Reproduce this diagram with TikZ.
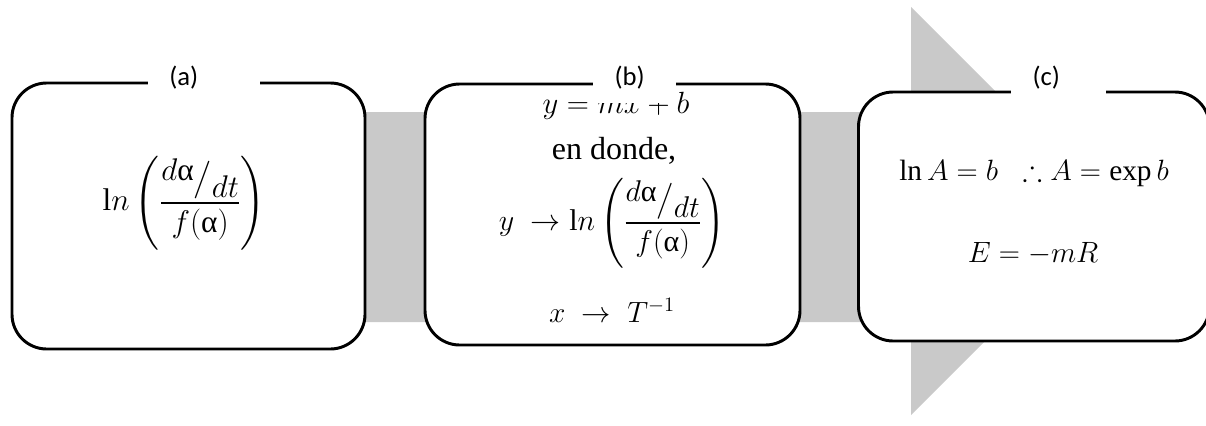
\RequirePackage{fix-cm}
\documentclass[tikz,border=0pt]{standalone}
\usepackage{amsmath,amssymb}
\usepackage{fontspec}
\setmainfont{Liberation Serif}
\newfontfamily\tagfont{Carlito}
\usetikzlibrary{positioning}
\definecolor{band}{HTML}{C9C9C9}
\newcommand{\rate}{\mathrm{l}n\left(\dfrac{\raisebox{.5ex}{$d\text{α}$}\big/\raisebox{-.7ex}{$dt$}}{f(\text{α})}\right)}

\begin{document}
\begin{tikzpicture}[x=0.75pt,y=-0.75pt,
  stage/.style={draw,line width=2.2pt,fill=white,rounded corners=26pt},
  eq/.style={inner sep=1pt,font=\fontsize{22}{26}\selectfont},
  tag/.style={fill=white,inner xsep=16pt,inner ysep=0pt,minimum height=38pt,text width=#1,align=left,font=\tagfont\fontsize{20}{24}\selectfont}]
\useasboundingbox (0,0) rectangle (1206,425);
% grey arrow running behind the three boxes
\fill[band] (300,112)--(911,112)--(911,7)--(1115,211)--(911,415)--(911,322)--(300,322)--cycle;
\node[stage,minimum width=264.75pt,minimum height=199.5pt] (boxa) at (188.5,216) {};
\node[stage,minimum width=281.25pt,minimum height=195.75pt] (boxb) at (612.5,214.5) {};
\node[stage,minimum width=263.25pt,minimum height=186.75pt] (boxc) at (1034,216.5) {};
\node[eq,font=\fontsize{23.5}{28}\selectfont] (rate) at (184,203) {$\rate$};
\node[eq,anchor=base,font=\fontsize{23}{28}\selectfont] (line) at (616,113) {$y = mx + b$};
\node[eq,anchor=base,font=\fontsize{24}{28}\selectfont] (where) at (614,159) {en donde,};
\node[eq,font=\fontsize{22.5}{28}\selectfont] (ymap) at (612,223) {$y\;\rightarrow \rate$};
\node[eq,anchor=base] (xmap) at (612,322) {$x\;\rightarrow\; T^{-1}$};
\node[eq,anchor=base] (param) at (1034,180) {$\ln A = b\;\; \therefore A = \exp b$};
\node[eq,anchor=base] (energy) at (1033,262) {$E = -mR$};
% labels sit in a white gap of the top border
\node[tag=52pt] (taga) at (204,78) {(a)};
\node[tag=30pt] (tagb) at (634.5,78) {(b)};
\node[tag=39pt] (tagc) at (1058.5,78) {(c)};
\end{tikzpicture}
\end{document}
